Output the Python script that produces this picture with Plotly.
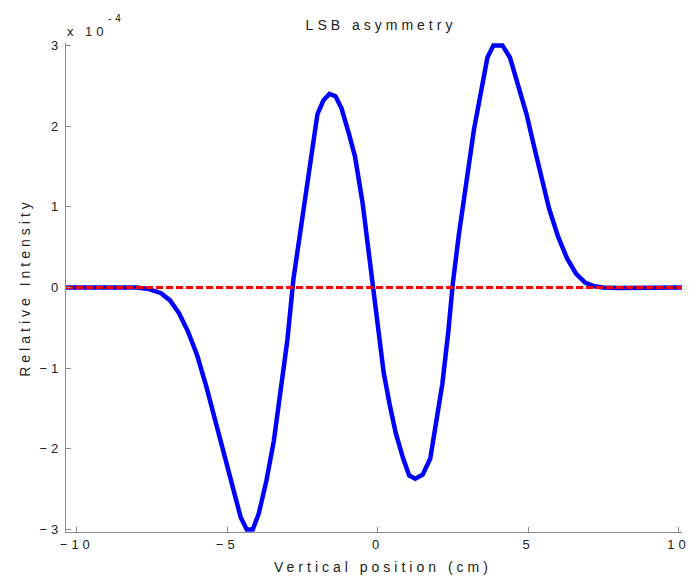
import plotly.graph_objects as go

# Vertical position (cm)
position_cm = [
    -10.36, -9.5, -9.0, -8.5, -8.0, -7.6, -7.2, -6.9, -6.6, -6.3, -6.0, -5.7,
    -5.4, -5.1, -4.8, -4.55, -4.35, -4.15, -3.95, -3.7, -3.45, -3.2, -3.0,
    -2.8, -2.6, -2.4, -2.2, -2.0, -1.8, -1.6, -1.4, -1.2, -0.95, -0.75, -0.5,
    -0.3, -0.15, 0.0, 0.2, 0.4, 0.6, 0.85, 1.05, 1.25, 1.5, 1.75, 1.95, 2.15,
    2.35, 2.5, 2.7, 2.95, 3.2, 3.45, 3.65, 3.85, 4.15, 4.4, 4.65, 4.95, 5.2,
    5.45, 5.7, 6.0, 6.3, 6.6, 6.9, 7.2, 7.5, 8.0, 9.0, 10.12,
]

# LSB asymmetry, in units of 1e-4
asymmetry_e4 = [
    0.0, 0.005, 0.005, 0.005, 0.0, -0.02, -0.07, -0.16, -0.32, -0.55, -0.84,
    -1.22, -1.65, -2.05, -2.52, -2.85, -3.0, -3.0, -2.8, -2.4, -1.9, -1.23,
    -0.65, 0.1, 0.62, 1.15, 1.7, 2.15, 2.32, 2.4, 2.37, 2.22, 1.9, 1.62, 1.05,
    0.45, -0.05, -0.55, -1.05, -1.45, -1.8, -2.12, -2.33, -2.37, -2.32, -2.12,
    -1.7, -1.2, -0.55, 0.05, 0.65, 1.3, 1.95, 2.45, 2.85, 3.0, 3.0, 2.85, 2.55,
    2.15, 1.75, 1.35, 0.98, 0.63, 0.36, 0.17, 0.06, 0.015, 0.0, -0.005, 0.0, 0.0,
]

# Zero reference
reference_x = [-10.36, 10.12]
reference_y = [0.0, 0.0]

x_ticks = [-10, -5, 0, 5, 10]
y_ticks = [-3, -2, -1, 0, 1, 2, 3]

FONT = "Liberation Sans, Arial, Helvetica, sans-serif"
TEXT = "#222222"
AXIS = "#8a8a8a"

fig = go.Figure()
fig.add_trace(go.Scatter(
    x=position_cm, y=asymmetry_e4, mode="lines",
    line=dict(color="#0000ff", width=4.5), showlegend=False,
))
fig.add_trace(go.Scatter(
    x=reference_x, y=reference_y, mode="lines",
    line=dict(color="#ff0000", width=3, dash="7px,3px"), showlegend=False,
))

PLOT_H = 577 - 43 - 45
PLOT_W = 698 - 66 - 12

fig.update_layout(
    width=698, height=577,
    margin=dict(l=66, r=12, t=43, b=45),
    paper_bgcolor="white", plot_bgcolor="white",
    font=dict(family=FONT, size=13, color=TEXT),
    title=dict(text="LSB asymmetry", x=381 / 698, xanchor="center",
               y=1 - 25 / 577, yanchor="middle",
               font=dict(family=FONT, size=14, color=TEXT)),
    xaxis=dict(
        range=[-10.36, 10.12], tickvals=x_ticks,
        ticks="inside", ticklen=5, tickcolor=AXIS, tickwidth=1,
        showline=True, linecolor=AXIS, linewidth=1.2,
        showgrid=False, zeroline=False,
        tickfont=dict(family=FONT, size=13, color=TEXT),
    ),
    yaxis=dict(
        range=[-3.03, 3.03], tickvals=y_ticks,
        ticks="inside", ticklen=5, tickcolor=AXIS, tickwidth=1,
        showline=True, linecolor=AXIS, linewidth=1.2,
        showgrid=False, zeroline=False,
        tickfont=dict(family=FONT, size=13, color=TEXT),
        title=dict(text="Relative Intensity", standoff=13,
                   font=dict(family=FONT, size=14, color=TEXT)),
    ),
    annotations=[
        dict(text="Vertical position (cm)", xref="paper", yref="paper",
             x=(385 - 66) / PLOT_W, y=-(567 - 532) / PLOT_H,
             xanchor="center", yanchor="middle", showarrow=False,
             font=dict(family=FONT, size=14, color=TEXT)),
        dict(text="x 10", xref="paper", yref="paper",
             x=(88 - 66) / PLOT_W, y=(532 - 32) / PLOT_H,
             xanchor="center", yanchor="middle",
             showarrow=False, font=dict(family=FONT, size=13, color=TEXT)),
        dict(text="-4", xref="paper", yref="paper",
             x=(117 - 66) / PLOT_W, y=(532 - 18) / PLOT_H,
             xanchor="center", yanchor="middle",
             showarrow=False, font=dict(family=FONT, size=10, color=TEXT)),
    ],
)

# Widely tracked lettering for all labels
spacing_js = """
function spreadLetters(){
  document.querySelectorAll('.gtitle, .xtick text, .ytick text, .ytitle, .annotation-text')
    .forEach(function(e){ e.style.letterSpacing = '4px'; });
}
spreadLetters();
var gd = document.getElementById('{plot_id}');
if (gd && gd.on) { gd.on('plotly_afterplot', spreadLetters); }
"""

fig.write_html("out.html", post_script=spacing_js)
